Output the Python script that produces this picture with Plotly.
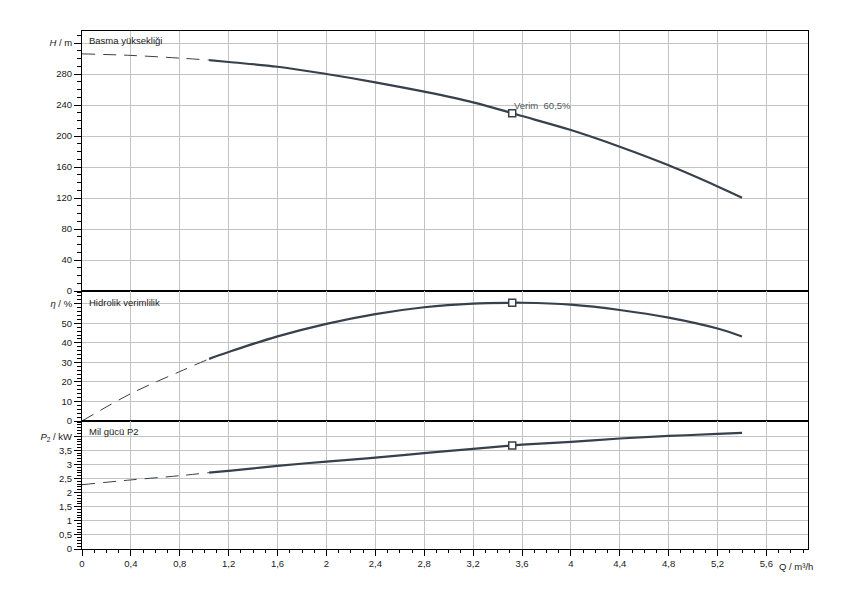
import plotly.graph_objects as go
from plotly.subplots import make_subplots

# flow rate Q (m³/h) and read-off curve values
Q = [0, 0.4, 0.8, 1.04, 1.2, 1.6, 2.0, 2.4, 2.8, 3.2, 3.52, 3.6, 4.0, 4.4, 4.8, 5.2, 5.4]
HEAD = [306, 304, 300.5, 298, 295.5, 289.4, 280, 269.3, 257.2, 243.5, 229.5, 225.8, 207.7, 186.2, 162.2, 135, 120.5]
EFFICIENCY = [0, 14, 25.3, 31.8, 35.3, 43.3, 49.7, 54.7, 58.2, 60.1, 60.5, 60.5, 59.5, 56.8, 52.9, 47.3, 43.2]
POWER = [2.28, 2.45, 2.6, 2.71, 2.77, 2.95, 3.1, 3.24, 3.4, 3.55, 3.67, 3.7, 3.8, 3.92, 4.01, 4.08, 4.12]

Q_MIN = 1.04   # below this the curves are dashed
OP_Q = 3.52    # duty point

X_TICKS = [0, 0.4, 0.8, 1.2, 1.6, 2, 2.4, 2.8, 3.2, 3.6, 4, 4.4, 4.8, 5.2, 5.6]
X_LABELS = ["0", "0,4", "0,8", "1,2", "1,6", "2", "2,4", "2,8", "3,2", "3,6", "4", "4,4", "4,8", "5,2", "5,6"]
H_TICKS = [0, 40, 80, 120, 160, 200, 240, 280, 320]
H_LABELS = ["0", "40", "80", "120", "160", "200", "240", "280", "<i>H</i> / m"]
ETA_TICKS = [0, 10, 20, 30, 40, 50, 60]
ETA_LABELS = ["0", "10", "20", "30", "40", "50", "<i>η</i> / %"]
P_TICKS = [0, 0.5, 1, 1.5, 2, 2.5, 3, 3.5, 4]
P_LABELS = ["0", "0,5", "1", "1,5", "2", "2,5", "3", "3,5", "<i>P</i><sub>2</sub> / kW"]

LINE_COLOR = "#37414b"
GRID_COLOR = "#c3c3c3"
FONT = "Liberation Sans, Arial, sans-serif"

fig = make_subplots(rows=3, cols=1, shared_xaxes=True, vertical_spacing=0)


def add_curve(row, values):
    dq = [q for q in Q if q <= Q_MIN]
    sq = [q for q in Q if q >= Q_MIN]
    fig.add_trace(go.Scatter(x=dq, y=values[:len(dq)], mode="lines", line_shape="spline",
                             line=dict(color=LINE_COLOR, width=1, dash="13px,8px")), row=row, col=1)
    fig.add_trace(go.Scatter(x=sq, y=values[len(Q) - len(sq):], mode="lines", line_shape="spline",
                             line=dict(color=LINE_COLOR, width=2.2)), row=row, col=1)
    i = Q.index(OP_Q)
    fig.add_trace(go.Scatter(x=[OP_Q], y=[values[i]], mode="markers",
                             marker=dict(symbol="square", size=7, color="white",
                                         line=dict(color=LINE_COLOR, width=1.5))), row=row, col=1)


add_curve(1, HEAD)
add_curve(2, EFFICIENCY)
add_curve(3, POWER)

# the page body adds 8px, so margins are shifted to keep the plot where the reference has it
fig.update_layout(
    width=850, height=600,
    showlegend=False,
    paper_bgcolor="white", plot_bgcolor="white",
    font=dict(family=FONT, size=10, color="#1a1a1a"),
    margin=dict(l=74, r=50, t=23, b=59),
)

axis_common = dict(showline=True, linecolor="black", linewidth=1, mirror=True,
                   showgrid=True, gridcolor=GRID_COLOR, gridwidth=1, zeroline=False)

for r in (1, 2, 3):
    fig.update_xaxes(range=[0, 5.94], tickmode="array", tickvals=X_TICKS, ticktext=X_LABELS,
                     row=r, col=1, **axis_common)
fig.update_xaxes(showticklabels=False, ticks="", row=1, col=1)
fig.update_xaxes(showticklabels=False, ticks="", row=2, col=1)
fig.update_xaxes(ticks="outside", ticklen=6, tickcolor="black",
                 minor=dict(tickmode="linear", tick0=0, dtick=0.1, ticks="outside",
                            ticklen=3, tickcolor="black", showgrid=False),
                 tickfont=dict(size=9.5), row=3, col=1)

y_specs = [
    (1, [0, 335.5], H_TICKS, H_LABELS, 10, [0.498, 1]),
    (2, [0, 66.5], ETA_TICKS, ETA_LABELS, 2, [0.2471, 0.498]),
    (3, [0, 4.54], P_TICKS, P_LABELS, 0.1, [0, 0.2471]),
]
for r, rng, tv, tt, mdt, dom in y_specs:
    fig.update_yaxes(range=rng, tickmode="array", tickvals=tv, ticktext=tt, domain=dom,
                     ticks="outside", ticklen=7, tickcolor="black", tickfont=dict(size=9.5),
                     minor=dict(tickmode="linear", tick0=0, dtick=mdt, ticks="outside",
                                ticklen=4, tickcolor="black", showgrid=False),
                     row=r, col=1, **axis_common)

panel_titles = [("y domain", "x domain", "Basma yüksekliği", 0.963),
                ("y2 domain", "x2 domain", "Hidrolik verimlilik", 0.912),
                ("y3 domain", "x3 domain", "Mil gücü P2", 0.915)]
for yref, xref, text, yy in panel_titles:
    fig.add_annotation(xref=xref, yref=yref, x=0.007, y=yy, text=text, showarrow=False,
                       xanchor="left", yanchor="middle", font=dict(size=9.5, color="#1a1a1a"))

fig.add_annotation(xref="x", yref="y", x=OP_Q, y=240, text="Verim  60,5%", showarrow=False,
                   xanchor="left", yanchor="middle", font=dict(size=9.5, color="#505a64"))

fig.add_annotation(xref="x3", yref="paper", x=5.69, y=0, yshift=-17, text="Q / m³/h",
                   showarrow=False, xanchor="left", yanchor="middle", font=dict(size=9.5))

fig.write_html("out.html")
